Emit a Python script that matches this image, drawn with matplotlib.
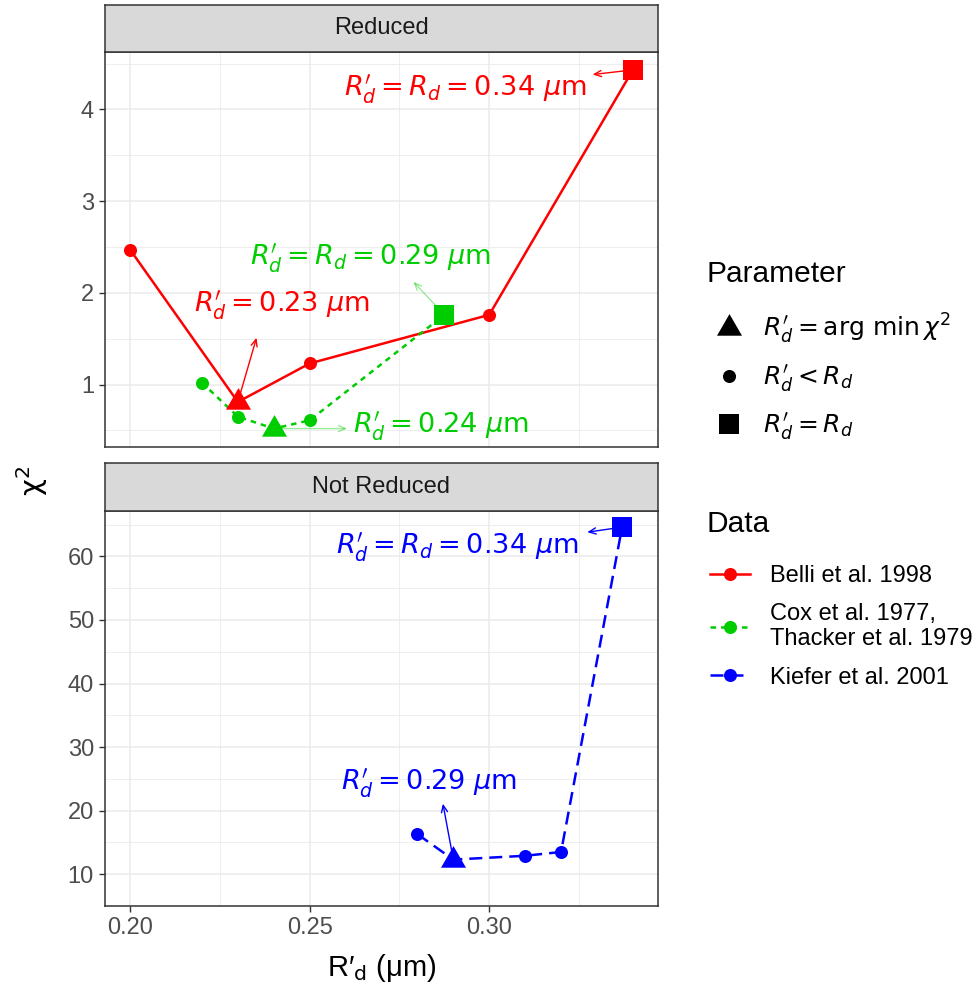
import matplotlib
matplotlib.use("Agg")
import matplotlib.pyplot as plt
from matplotlib.lines import Line2D

plt.rcParams["font.family"] = ["Liberation Sans", "DejaVu Sans"]
plt.rcParams["mathtext.fontset"] = "dejavusans"

# ---- data ----
belli_rd = [0.20, 0.23, 0.25, 0.30, 0.34]
belli_chi2 = [2.47, 0.81, 1.23, 1.76, 4.43]
belli_kind = ["lt", "min", "lt", "lt", "eq"]

cox_rd = [0.22, 0.23, 0.24, 0.25, 0.2875]
cox_chi2 = [1.02, 0.65, 0.52, 0.61, 1.76]
cox_kind = ["lt", "lt", "min", "lt", "eq"]

kiefer_rd = [0.28, 0.29, 0.31, 0.32, 0.337]
kiefer_chi2 = [16.3, 12.3, 12.9, 13.5, 64.6]
kiefer_kind = ["lt", "min", "lt", "lt", "eq"]

facets = ["Reduced", "Not Reduced"]
x_ticks = [0.20, 0.25, 0.30]
x_tick_labels = ["0.20", "0.25", "0.30"]
top_y_ticks = [1, 2, 3, 4]
bot_y_ticks = [10, 20, 30, 40, 50, 60]

RDP = r"R^{\prime}_{d}"
data_labels = ["Belli et al. 1998", "Cox et al. 1977,\nThacker et al. 1979", "Kiefer et al. 2001"]
param_labels = [rf"${RDP} = \mathrm{{arg\ min}}\,\chi^2$", rf"${RDP} < R_d$", rf"${RDP} = R_d$"]

# annotations: (label, point index, label x, label y, arrow tip x, arrow tip y)
belli_notes = [(rf"${RDP} = R_d = 0.34\ \mu\mathrm{{m}}$", 4, 0.2934, 4.22, 0.3288, 4.38),
               (rf"${RDP} = 0.23\ \mu\mathrm{{m}}$", 1, 0.2422, 1.86, 0.2352, 1.51)]
cox_notes = [(rf"${RDP} = R_d = 0.29\ \mu\mathrm{{m}}$", 4, 0.2669, 2.38, 0.2789, 2.12),
             (rf"${RDP} = 0.24\ \mu\mathrm{{m}}$", 2, 0.2866, 0.55, 0.2604, 0.52)]
kiefer_notes = [(rf"${RDP} = R_d = 0.34\ \mu\mathrm{{m}}$", 4, 0.2911, 61.5, 0.3273, 63.8),
                (rf"${RDP} = 0.29\ \mu\mathrm{{m}}$", 1, 0.2832, 24.3, 0.2871, 21.1)]

RED = "#FF0000"
GREEN = "#00CD00"
BLUE = "#0000FF"

# equilateral triangle centred on its centroid (like ggplot's shape 17)
TRI = [(-1.0, -0.577), (1.0, -0.577), (0.0, 1.155)]
MARKERS = {"min": (TRI, 20.8), "lt": ("o", 9.4), "eq": ("s", 13.7)}

W, H = 980, 985


def px_rect(x0, y0, x1, y1):
    return [x0 / W, 1 - y1 / H, (x1 - x0) / W, (y1 - y0) / H]


def draw_series(ax, rd, chi2, kinds, color, ls):
    ax.plot(rd, chi2, color=color, lw=1.8, linestyle=ls, zorder=3)
    for kind, (marker, ms) in MARKERS.items():
        xs = [x for x, k in zip(rd, kinds) if k == kind]
        ys = [y for y, k in zip(chi2, kinds) if k == kind]
        ax.plot(xs, ys, linestyle="none", marker=marker, ms=ms, color=color,
                markeredgewidth=0, zorder=4)


def draw_notes(ax, rd, chi2, notes, color, arrow_alpha=1.0):
    for label, i, tx, ty, hx, hy in notes:
        ax.annotate("", xy=(hx, hy), xytext=(rd[i], chi2[i]),
                    arrowprops=dict(arrowstyle="->,head_length=0.5,head_width=0.22",
                                    color=color, lw=1.0, alpha=arrow_alpha,
                                    shrinkA=0, shrinkB=0), zorder=5)
        ax.text(tx, ty, label, color=color, fontsize=19.5, ha="center", va="center", zorder=6)


def style_panel(ax, yticks, ylim, show_x):
    ax.set_facecolor("white")
    ax.set_xlim(0.193, 0.347)
    ax.set_ylim(*ylim)
    ax.set_xticks(x_ticks)
    ax.set_xticks([0.225, 0.275, 0.325], minor=True)
    ax.set_yticks(yticks)
    step = yticks[1] - yticks[0]
    ax.set_yticks([t + step / 2 for t in [yticks[0] - step] + yticks], minor=True)
    ax.grid(which="major", color="#EBEBEB", lw=1.1, zorder=0)
    ax.grid(which="minor", color="#EBEBEB", lw=0.6, zorder=0)
    ax.set_axisbelow(True)
    for sp in ax.spines.values():
        sp.set_color("#333333")
        sp.set_linewidth(1.1)
    ax.tick_params(which="major", length=4.5, width=1.0, color="#333333",
                   labelsize=17, labelcolor="#4D4D4D")
    ax.tick_params(which="minor", length=0)
    if show_x:
        ax.set_xticklabels(x_tick_labels)
    else:
        ax.tick_params(axis="x", which="both", length=0, labelbottom=False)


def add_strip(rect, text):
    s = fig.add_axes(rect)
    s.set_facecolor("#D9D9D9")
    s.set_xticks([])
    s.set_yticks([])
    for sp in s.spines.values():
        sp.set_color("#333333")
        sp.set_linewidth(1.1)
    s.text(0.5, 0.5, text, ha="center", va="center", fontsize=17, color="#1A1A1A",
           transform=s.transAxes)


def expand(vals):
    lo, hi = min(vals), max(vals)
    pad = 0.05 * (hi - lo)
    return lo - pad, hi + pad


fig = plt.figure(figsize=(9.8, 9.85), dpi=100)

ax_top = fig.add_axes(px_rect(105, 52, 658, 446.5))
ax_bot = fig.add_axes(px_rect(105, 510.5, 658, 906))
add_strip(px_rect(105, 5, 658, 52), facets[0])
add_strip(px_rect(105, 463, 658, 510.5), facets[1])

draw_series(ax_top, belli_rd, belli_chi2, belli_kind, RED, "-")
draw_series(ax_top, cox_rd, cox_chi2, cox_kind, GREEN, (0, (2.2, 2.0)))
draw_series(ax_bot, kiefer_rd, kiefer_chi2, kiefer_kind, BLUE, (0, (5.2, 2.8)))

draw_notes(ax_top, belli_rd, belli_chi2, belli_notes, RED)
draw_notes(ax_top, cox_rd, cox_chi2, cox_notes, GREEN, arrow_alpha=0.4)
draw_notes(ax_bot, kiefer_rd, kiefer_chi2, kiefer_notes, BLUE)

style_panel(ax_top, top_y_ticks, expand(belli_chi2 + cox_chi2), show_x=False)
style_panel(ax_bot, bot_y_ticks, expand(kiefer_chi2), show_x=True)

fig.text(381.5 / W, 1 - 968 / H, "R′$_\\mathrm{d}$ (μm)", ha="center", va="center", fontsize=21)
fig.text(32 / W, 1 - 481 / H, "χ$^2$", ha="center", va="center", fontsize=21, rotation=90,
         family=["DejaVu Sans"])

# legends (titles drawn separately so the title gap can be set freely)
fig.text(706 / W, 1 - 274 / H, "Parameter", ha="left", va="center", fontsize=21.5)
fig.text(706 / W, 1 - 524 / H, "Data", ha="left", va="center", fontsize=21.5)

param_handles = [Line2D([], [], ls="none", marker=MARKERS[k][0], ms=MARKERS[k][1],
                        color="black", markeredgewidth=0) for k in ["min", "lt", "eq"]]
fig.legend(param_handles, param_labels, loc="upper left",
           bbox_to_anchor=(710 / W, 1 - 312 / H), frameon=False, fontsize=18,
           handlelength=1.55, handletextpad=0.55, labelspacing=0.68, borderpad=0,
           borderaxespad=0)

data_handles = [Line2D([], [], color=c, lw=1.8, linestyle=ls, marker="o", ms=9.4,
                       markeredgewidth=0)
                for c, ls in [(RED, "-"), (GREEN, (0, (2.2, 2.0))), (BLUE, (0, (5.2, 2.8)))]]
fig.legend(data_handles, data_labels, loc="upper left",
           bbox_to_anchor=(710 / W, 1 - 565 / H), frameon=False, fontsize=17,
           handlelength=1.7, handletextpad=0.85, labelspacing=0.68, borderpad=0,
           borderaxespad=0)

fig.savefig("out.png", dpi=100, facecolor="white")
